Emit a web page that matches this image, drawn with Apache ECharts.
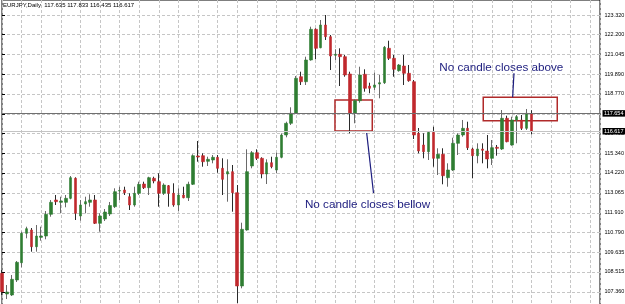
<!DOCTYPE html>
<html><head><meta charset="utf-8">
<script src="https://cdn.jsdelivr.net/npm/echarts@6/dist/echarts.min.js"></script>
<style>html,body{margin:0;padding:0;background:#fff}#c{width:625px;height:304px}</style>
</head><body><div id="c"></div>
<script>
// Daily EURJPY candles
const opens = [108.433,107.240,107.182,108.047,109.043,110.738,110.928,109.966,110.508,110.582,
111.833,112.658,112.525,112.525,112.755,113.908,111.735,112.427,112.525,112.658,
111.315,111.562,111.851,112.272,113.176,113.234,112.848,112.370,113.044,113.580,
113.367,113.908,113.713,113.044,113.482,113.044,112.370,112.946,112.790,113.563,
115.194,115.211,114.888,114.963,115.119,114.485,114.156,114.289,113.078,107.701,
110.928,114.617,115.384,115.061,114.156,114.807,114.387,115.119,116.404,117.078,
117.655,119.764,119.476,120.727,122.496,121.436,122.744,122.070,120.998,121.055,
120.917,119.920,117.655,118.381,119.903,119.228,119.153,119.344,119.418,121.401,
120.825,120.110,120.381,119.960,119.476,116.502,115.828,115.441,116.559,115.061,
115.292,113.943,114.387,115.926,116.404,116.790,115.597,115.211,115.597,115.482,
115.061,115.695,115.597,117.367,115.828,117.269,117.269,116.790,117.635];
const closes = [107.372,107.355,108.087,109.066,110.738,111.003,109.966,110.582,110.582,111.833,
112.525,112.560,112.600,112.755,113.943,111.891,112.370,112.560,112.658,111.315,
111.735,111.966,112.341,113.136,113.205,113.078,112.370,113.044,113.563,113.367,
113.943,113.753,113.044,113.522,113.044,112.370,112.946,112.790,113.563,115.211,
115.136,114.865,115.004,115.119,114.485,113.851,114.289,113.078,107.701,110.969,
114.289,115.384,115.061,114.156,114.807,114.577,115.119,116.404,117.078,117.655,
119.672,119.476,120.727,122.496,121.401,122.744,122.070,120.957,121.055,120.917,
119.862,117.655,118.381,119.862,119.096,119.096,119.286,119.418,121.459,120.825,
120.191,120.439,119.960,119.534,116.404,115.482,115.441,116.559,115.061,115.292,
114.058,114.387,115.926,116.404,116.790,115.672,115.211,115.597,115.522,115.021,
115.672,115.637,117.367,116.018,117.269,117.459,116.790,117.655,116.617];
const lows = [107.182,106.950,107.124,107.931,108.779,110.450,109.678,109.678,110.312,110.393,
111.695,112.370,111.891,112.237,112.698,111.505,111.465,111.891,112.272,111.274,
110.830,111.447,111.735,112.197,112.658,112.946,112.081,112.272,112.946,113.292,
112.946,113.620,112.272,112.946,112.272,112.272,112.024,112.756,112.600,113.522,
114.865,114.577,114.617,114.773,114.231,112.946,112.560,111.983,106.704,107.568,
110.888,114.485,114.963,113.908,113.580,114.485,114.197,115.061,116.271,116.980,
117.614,119.286,119.286,120.687,120.767,121.401,121.880,120.150,120.727,119.228,
119.764,116.502,117.078,118.266,118.900,118.807,118.998,118.519,119.344,120.727,
119.764,120.052,119.286,119.476,116.173,115.349,115.061,114.963,114.577,114.099,
113.563,113.424,114.329,115.251,116.306,115.539,113.908,114.773,114.773,114.485,
114.675,115.211,115.539,115.983,115.787,115.926,116.692,116.692,116.435];
const highs = [108.623,107.758,108.335,109.142,110.830,111.118,111.043,111.216,111.118,112.023,
112.658,112.946,112.848,112.946,114.041,113.966,112.658,112.848,112.986,112.946,
111.891,112.139,112.543,113.332,113.424,113.424,113.044,113.424,113.713,113.713,
114.000,114.000,114.197,113.620,113.522,113.620,113.332,113.424,113.713,115.292,
116.058,115.349,115.153,115.251,115.251,115.061,115.004,114.675,113.522,111.349,
115.580,115.482,115.580,115.119,115.004,115.153,115.384,116.502,117.171,118.001,
119.805,120.052,120.917,122.646,122.554,123.032,123.320,122.168,121.344,121.401,
121.015,120.052,118.462,120.341,120.191,119.418,119.995,119.862,121.534,121.839,
121.015,120.496,121.015,120.439,119.574,116.807,116.502,116.635,116.883,115.638,
115.638,114.773,116.248,116.502,117.269,117.171,115.672,115.926,115.926,116.404,
116.116,115.828,117.845,117.516,117.459,117.557,117.557,117.903,117.833];

// Price axis tick labels
const yTickLabels = [123.320,122.200,121.045,119.890,118.770,117.615,116.495,115.340,
114.220,113.065,111.910,110.790,109.635,108.515,107.360];
const bidPrice = 117.654;
const lastClose = 116.617;
const titleText = 'EURJPY,Daily  117.635 117.833 116.435 116.617';

// Annotations in data coordinates: [bar index, price]
const boxBelow = [[67.93, 118.42], [75.54, 116.635]];
const boxAbove = [[98.18, 118.577], [113.28, 117.228]];
const lineBelow = [[74.4, 116.52], [75.79, 113.06]];
const lineAbove = [[104.45, 119.96], [104.18, 118.577]];
const textBelow = {label: 'No candle closes bellow', at: [61.8, 112.37]};
const textAbove = {label: 'No candle closes above', at: [89.2, 120.306]};

const UP = '#2f7d32', DOWN = '#c0282d', UPWICK = '#6a6a6a', DOWNWICK = '#2a2a2a';
const NAVY = '#1c1c7e', BOXRED = '#b02a2a';
const FONT = '"Liberation Sans", Arial, sans-serif';

const wickData = opens.map((o, i) => [i, o, closes[i], lows[i], highs[i]]);
const bodyData = opens.map((o, i) => [i, o, closes[i], Math.min(o, closes[i]), Math.max(o, closes[i])]);

const chart = echarts.init(document.getElementById('c'), null, {renderer: 'canvas'});
const priceLabel = (txt) => ({
  show: true, position: 'end', distance: 2.5, formatter: txt,
  backgroundColor: '#000', color: '#fff', fontSize: 5.5, fontFamily: FONT,
  padding: [0.5, 1.5, 0, 1.5]
});
chart.setOption({
  animation: false,
  backgroundColor: '#fff',
  title: {
    text: titleText, left: 3, top: 2, padding: 0,
    textStyle: {fontSize: 6, fontWeight: 'normal', color: '#000', fontFamily: FONT}
  },
  grid: {left: 2, right: 25, top: 0, height: 310, show: true, containLabel: false,
         outerBoundsMode: 'none',
         borderColor: '#000', borderWidth: 1, backgroundColor: '#fff'},
  xAxis: {
    type: 'value', min: 0, max: 122, interval: 4,
    axisLine: {show: false}, axisTick: {show: false}, axisLabel: {show: false},
    splitLine: {show: true, lineStyle: {color: '#c6c6c6', type: [3, 2], width: 1}}
  },
  yAxis: {
    type: 'value', position: 'right', min: 106.318, max: 124.185, scale: true,
    axisLine: {show: false},
    axisTick: {show: true, length: 3, customValues: yTickLabels, lineStyle: {color: '#000'}},
    axisLabel: {customValues: yTickLabels, formatter: v => v.toFixed(3),
                fontSize: 5.5, color: '#000', margin: 4.5, fontFamily: FONT},
    splitLine: {show: true, lineStyle: {color: '#c6c6c6', type: [3, 2], width: 1}}
  },
  series: [
    {
      name: 'wicks', type: 'candlestick', data: wickData,
      encode: {x: 0, y: [1, 2, 3, 4]}, barWidth: 1, clip: false, silent: true,
      itemStyle: {color: UPWICK, color0: DOWNWICK, borderColor: UPWICK, borderColor0: DOWNWICK, borderWidth: 1}
    },
    {
      name: 'bodies', type: 'candlestick', data: bodyData,
      encode: {x: 0, y: [1, 2, 3, 4]}, barWidth: 3.1, clip: false, silent: true,
      itemStyle: {color: UP, color0: DOWN, borderColor: UP, borderColor0: DOWN, borderWidth: 0.6},
      markLine: {
        silent: true, symbol: ['none', 'none'], animation: false,
        data: [
          {yAxis: lastClose, lineStyle: {color: '#c4c4c4', type: 'solid', width: 1}, label: priceLabel(lastClose.toFixed(3))},
          {yAxis: bidPrice, lineStyle: {color: '#707070', type: 'solid', width: 1}, label: priceLabel(bidPrice.toFixed(3))},
          [{coord: lineBelow[0]}, {coord: lineBelow[1]}],
          [{coord: lineAbove[0]}, {coord: lineAbove[1]}]
        ].map(d => Array.isArray(d)
          ? [Object.assign({lineStyle: {color: NAVY, type: 'solid', width: 1.2}, label: {show: false}}, d[0]), d[1]]
          : d)
      },
      markArea: {
        silent: true,
        itemStyle: {color: 'rgba(0,0,0,0)', borderColor: BOXRED, borderWidth: 1.5},
        data: [
          [{coord: boxBelow[0]}, {coord: boxBelow[1]}],
          [{coord: boxAbove[0]}, {coord: boxAbove[1]}]
        ]
      }
    }
  ]
});

const texts = [textBelow, textAbove].map(t => {
  const p = chart.convertToPixel({gridIndex: 0}, t.at);
  return {
    type: 'text', x: p[0], y: p[1], z: 100,
    style: {text: t.label, fill: NAVY, font: '11.7px ' + FONT, textVerticalAlign: 'middle', verticalAlign: 'middle'}
  };
});
chart.setOption({graphic: texts});
</script>
</body></html>
